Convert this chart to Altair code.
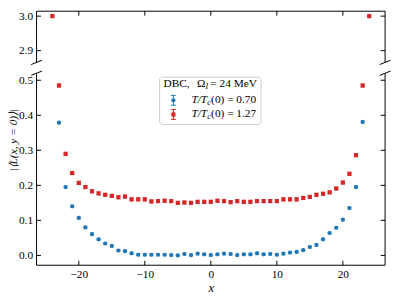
import altair as alt
import pandas as pd

# ---------------- data ----------------
x_blue = list(range(-23, 24))
blue_vals = [0.379, 0.195, 0.140, 0.107, 0.080, 0.061, 0.046, 0.034, 0.027, 0.014,
             0.012, 0.006, 0.002, 0.002, 0.002, 0.002, 0.002, 0.001, 0.000, 0.004,
             0.001, 0.005, 0.003, 0.001, 0.003, 0.005, 0.004, 0.001, 0.003, 0.003,
             0.006, 0.003, 0.004, 0.002, 0.005, 0.008, 0.010, 0.015, 0.024, 0.030,
             0.046, 0.064, 0.079, 0.102, 0.135, 0.195, 0.381]
blue_err = [0.003] * len(x_blue)

x_red = list(range(-24, 25))
red_vals = [3.000, 0.485, 0.290, 0.235, 0.207, 0.195, 0.183, 0.177, 0.173, 0.170,
            0.166, 0.168, 0.160, 0.160, 0.160, 0.154, 0.155, 0.156, 0.155, 0.150,
            0.151, 0.150, 0.153, 0.153, 0.153, 0.156, 0.155, 0.152, 0.155, 0.153,
            0.153, 0.155, 0.155, 0.155, 0.155, 0.160, 0.160, 0.160, 0.164, 0.167,
            0.173, 0.176, 0.180, 0.191, 0.208, 0.233, 0.286, 0.485, 3.000]
red_err = [0.004] * len(x_red)

series_names = ["T/Tc(0) = 0.70", "T/Tc(0) = 1.27"]
series_colors = ["#1f77b4", "#d62728"]
series_shapes = ["circle", "square"]

x_ticks = [-20, -10, 0, 10, 20]
y_ticks_bottom = [0.0, 0.1, 0.2, 0.3, 0.4, 0.5]
y_ticks_top = [2.9, 3.0]

legend_title = "DBC,"
legend_omega = "Ω"
legend_omega_sub = "I"
legend_omega_rest = "= 24 MeV"
legend_values = ["(0) = 0.70", "(0) = 1.27"]
y_title = "|⟨L(x, y = 0)⟩|"
x_title = "x"

# ---------------- tables ----------------
rows = []
for xv, v, e in zip(x_blue, blue_vals, blue_err):
    rows.append({"series": series_names[0], "x": xv, "v": v, "lo": v - e, "hi": v + e})
for xv, v, e in zip(x_red, red_vals, red_err):
    rows.append({"series": series_names[1], "x": xv, "v": v, "lo": v - e, "hi": v + e})
df = pd.DataFrame(rows)
df_bottom = df[df["v"] < 1].reset_index(drop=True)
df_top = df[df["v"] > 1].reset_index(drop=True)

FONT = "Liberation Serif"
FS = 11.5
W = 354
H_TOP = 52
H_BOT = 195
TL = 4.5  # tick length

color = alt.Color("series:N", scale=alt.Scale(domain=series_names, range=series_colors), legend=None)
shape = alt.Shape("series:N", scale=alt.Scale(domain=series_names, range=series_shapes), legend=None)
xscale = alt.Scale(domain=[-26.4, 26.4], nice=False, zero=False)

one = pd.DataFrame({"k": [0]})


def panel(data, ydomain, yticks, h, bottom):
    yscale = alt.Scale(domain=ydomain, nice=False, zero=False)
    yaxis = alt.Axis(values=yticks, format=".1f", domain=False, ticks=False, grid=False,
                     labelPadding=4, labelFont=FONT, labelFontSize=FS, labelColor="black",
                     title=None)
    if bottom:
        xaxis = alt.Axis(values=x_ticks, format="d", domain=False, ticks=False, grid=False,
                         labelPadding=3, labelFont=FONT, labelFontSize=FS, labelColor="black",
                         title=x_title, titleFont=FONT, titleFontSize=FS + 1,
                         titleFontStyle="italic", titleFontWeight="normal",
                         titleColor="black", titlePadding=2)
    else:
        xaxis = None

    def X(f="x"):
        return alt.X(f + ":Q", scale=xscale, axis=xaxis)

    def Y(f="v"):
        return alt.Y(f + ":Q", scale=yscale, axis=yaxis)

    base = alt.Chart(data)
    bars = base.mark_rule(strokeWidth=1).encode(x=X(), y=Y("lo"), y2="hi:Q", color=color)
    cap_lo = base.mark_tick(orient="horizontal", size=4, thickness=1).encode(x=X(), y=Y("lo"), color=color)
    cap_hi = base.mark_tick(orient="horizontal", size=4, thickness=1).encode(x=X(), y=Y("hi"), color=color)
    pts = base.mark_point(filled=True, opacity=1, size=18).encode(x=X(), y=Y(), color=color, shape=shape)

    ytd = pd.DataFrame({"v": yticks})
    xtd = pd.DataFrame({"x": x_ticks})
    tick_l = alt.Chart(ytd).mark_rule(color="black", strokeWidth=1).encode(
        y=Y(), x=alt.value(0), x2=alt.value(TL))
    tick_r = alt.Chart(ytd).mark_rule(color="black", strokeWidth=1).encode(
        y=Y(), x=alt.value(W - TL), x2=alt.value(W))
    if bottom:
        tick_x = alt.Chart(xtd).mark_rule(color="black", strokeWidth=1).encode(
            x=X(), y=alt.value(h), y2=alt.value(h - TL))
        spine_h = alt.Chart(one).mark_rule(color="black", strokeWidth=1).encode(
            x=alt.value(0), x2=alt.value(W), y=alt.value(h))
        by = 0
    else:
        tick_x = alt.Chart(xtd).mark_rule(color="black", strokeWidth=1).encode(
            x=X(), y=alt.value(0), y2=alt.value(TL))
        spine_h = alt.Chart(one).mark_rule(color="black", strokeWidth=1).encode(
            x=alt.value(0), x2=alt.value(W), y=alt.value(0))
        by = h
    spine_l = alt.Chart(one).mark_rule(color="black", strokeWidth=1).encode(
        x=alt.value(0), y=alt.value(0), y2=alt.value(h))
    spine_r = alt.Chart(one).mark_rule(color="black", strokeWidth=1).encode(
        x=alt.value(W), y=alt.value(0), y2=alt.value(h))
    brk_l = alt.Chart(one).mark_rule(color="black", strokeWidth=1).encode(
        x=alt.value(-5.5), x2=alt.value(5.5), y=alt.value(by + 2.2), y2=alt.value(by - 2.2))
    brk_r = alt.Chart(one).mark_rule(color="black", strokeWidth=1).encode(
        x=alt.value(W - 5.5), x2=alt.value(W + 5.5), y=alt.value(by + 2.2), y2=alt.value(by - 2.2))

    layers = [bars, cap_lo, cap_hi, pts, tick_l, tick_r, tick_x, spine_h, spine_l, spine_r, brk_l, brk_r]

    if bottom:
        ytitle = alt.Chart(one).mark_text(angle=270, align="center", baseline="middle",
                                          font=FONT, fontSize=FS, fontStyle="italic",
                                          color="black").encode(
            x=alt.value(-23), y=alt.value(68), text=alt.value(y_title))
        layers.append(ytitle)

        lx, ly = 125, 4
        box = alt.Chart(one).mark_rect(fill="white", fillOpacity=0.85, stroke="#cccccc",
                                       strokeWidth=1, cornerRadius=3).encode(
            x=alt.value(lx), x2=alt.value(lx + 103), y=alt.value(ly), y2=alt.value(ly + 48))

        def txt(t, x, y, size=FS, style="normal", dy=0):
            return alt.Chart(one).mark_text(align="left", baseline="middle", font=FONT,
                                            fontSize=size, fontStyle=style, color="black",
                                            dy=dy).encode(
                x=alt.value(x), y=alt.value(y), text=alt.value(t))

        leg = [box,
               txt(legend_title, lx + 4, ly + 7),
               txt(legend_omega, lx + 38, ly + 7),
               txt(legend_omega_sub, lx + 46.5, ly + 7, size=8, style="italic", dy=3),
               txt(legend_omega_rest, lx + 51.5, ly + 7)]
        for i, (c, val) in enumerate(zip(series_colors, legend_values)):
            yy = ly + 23.5 + i * 14.4
            sx = lx + 14
            leg.append(alt.Chart(one).mark_rule(color=c, strokeWidth=1).encode(
                x=alt.value(sx), y=alt.value(yy - 5), y2=alt.value(yy + 5)))
            leg.append(alt.Chart(one).mark_rule(color=c, strokeWidth=1).encode(
                x=alt.value(sx - 2.5), x2=alt.value(sx + 2.5), y=alt.value(yy - 5)))
            leg.append(alt.Chart(one).mark_rule(color=c, strokeWidth=1).encode(
                x=alt.value(sx - 2.5), x2=alt.value(sx + 2.5), y=alt.value(yy + 5)))
            leg.append(alt.Chart(one).mark_point(filled=True, opacity=1, size=18, color=c,
                                                 shape=series_shapes[i]).encode(
                x=alt.value(sx), y=alt.value(yy)))
            leg.append(txt("T/T", lx + 32.3, yy, style="italic"))
            leg.append(txt("c", lx + 48.3, yy, size=8, style="italic", dy=3))
            leg.append(txt(val, lx + 52.3, yy))
        layers += leg

    return alt.layer(*layers).properties(width=W, height=h)


top = panel(df_top, [2.866, 3.0143], y_ticks_top, H_TOP, False)
bot = panel(df_bottom, [-0.028, 0.52], y_ticks_bottom, H_BOT, True)

chart = alt.vconcat(top, bot, spacing=5).properties(padding=0).configure_view(stroke=None)

chart.save("out.html", embed_options={"renderer": "svg", "actions": False})
